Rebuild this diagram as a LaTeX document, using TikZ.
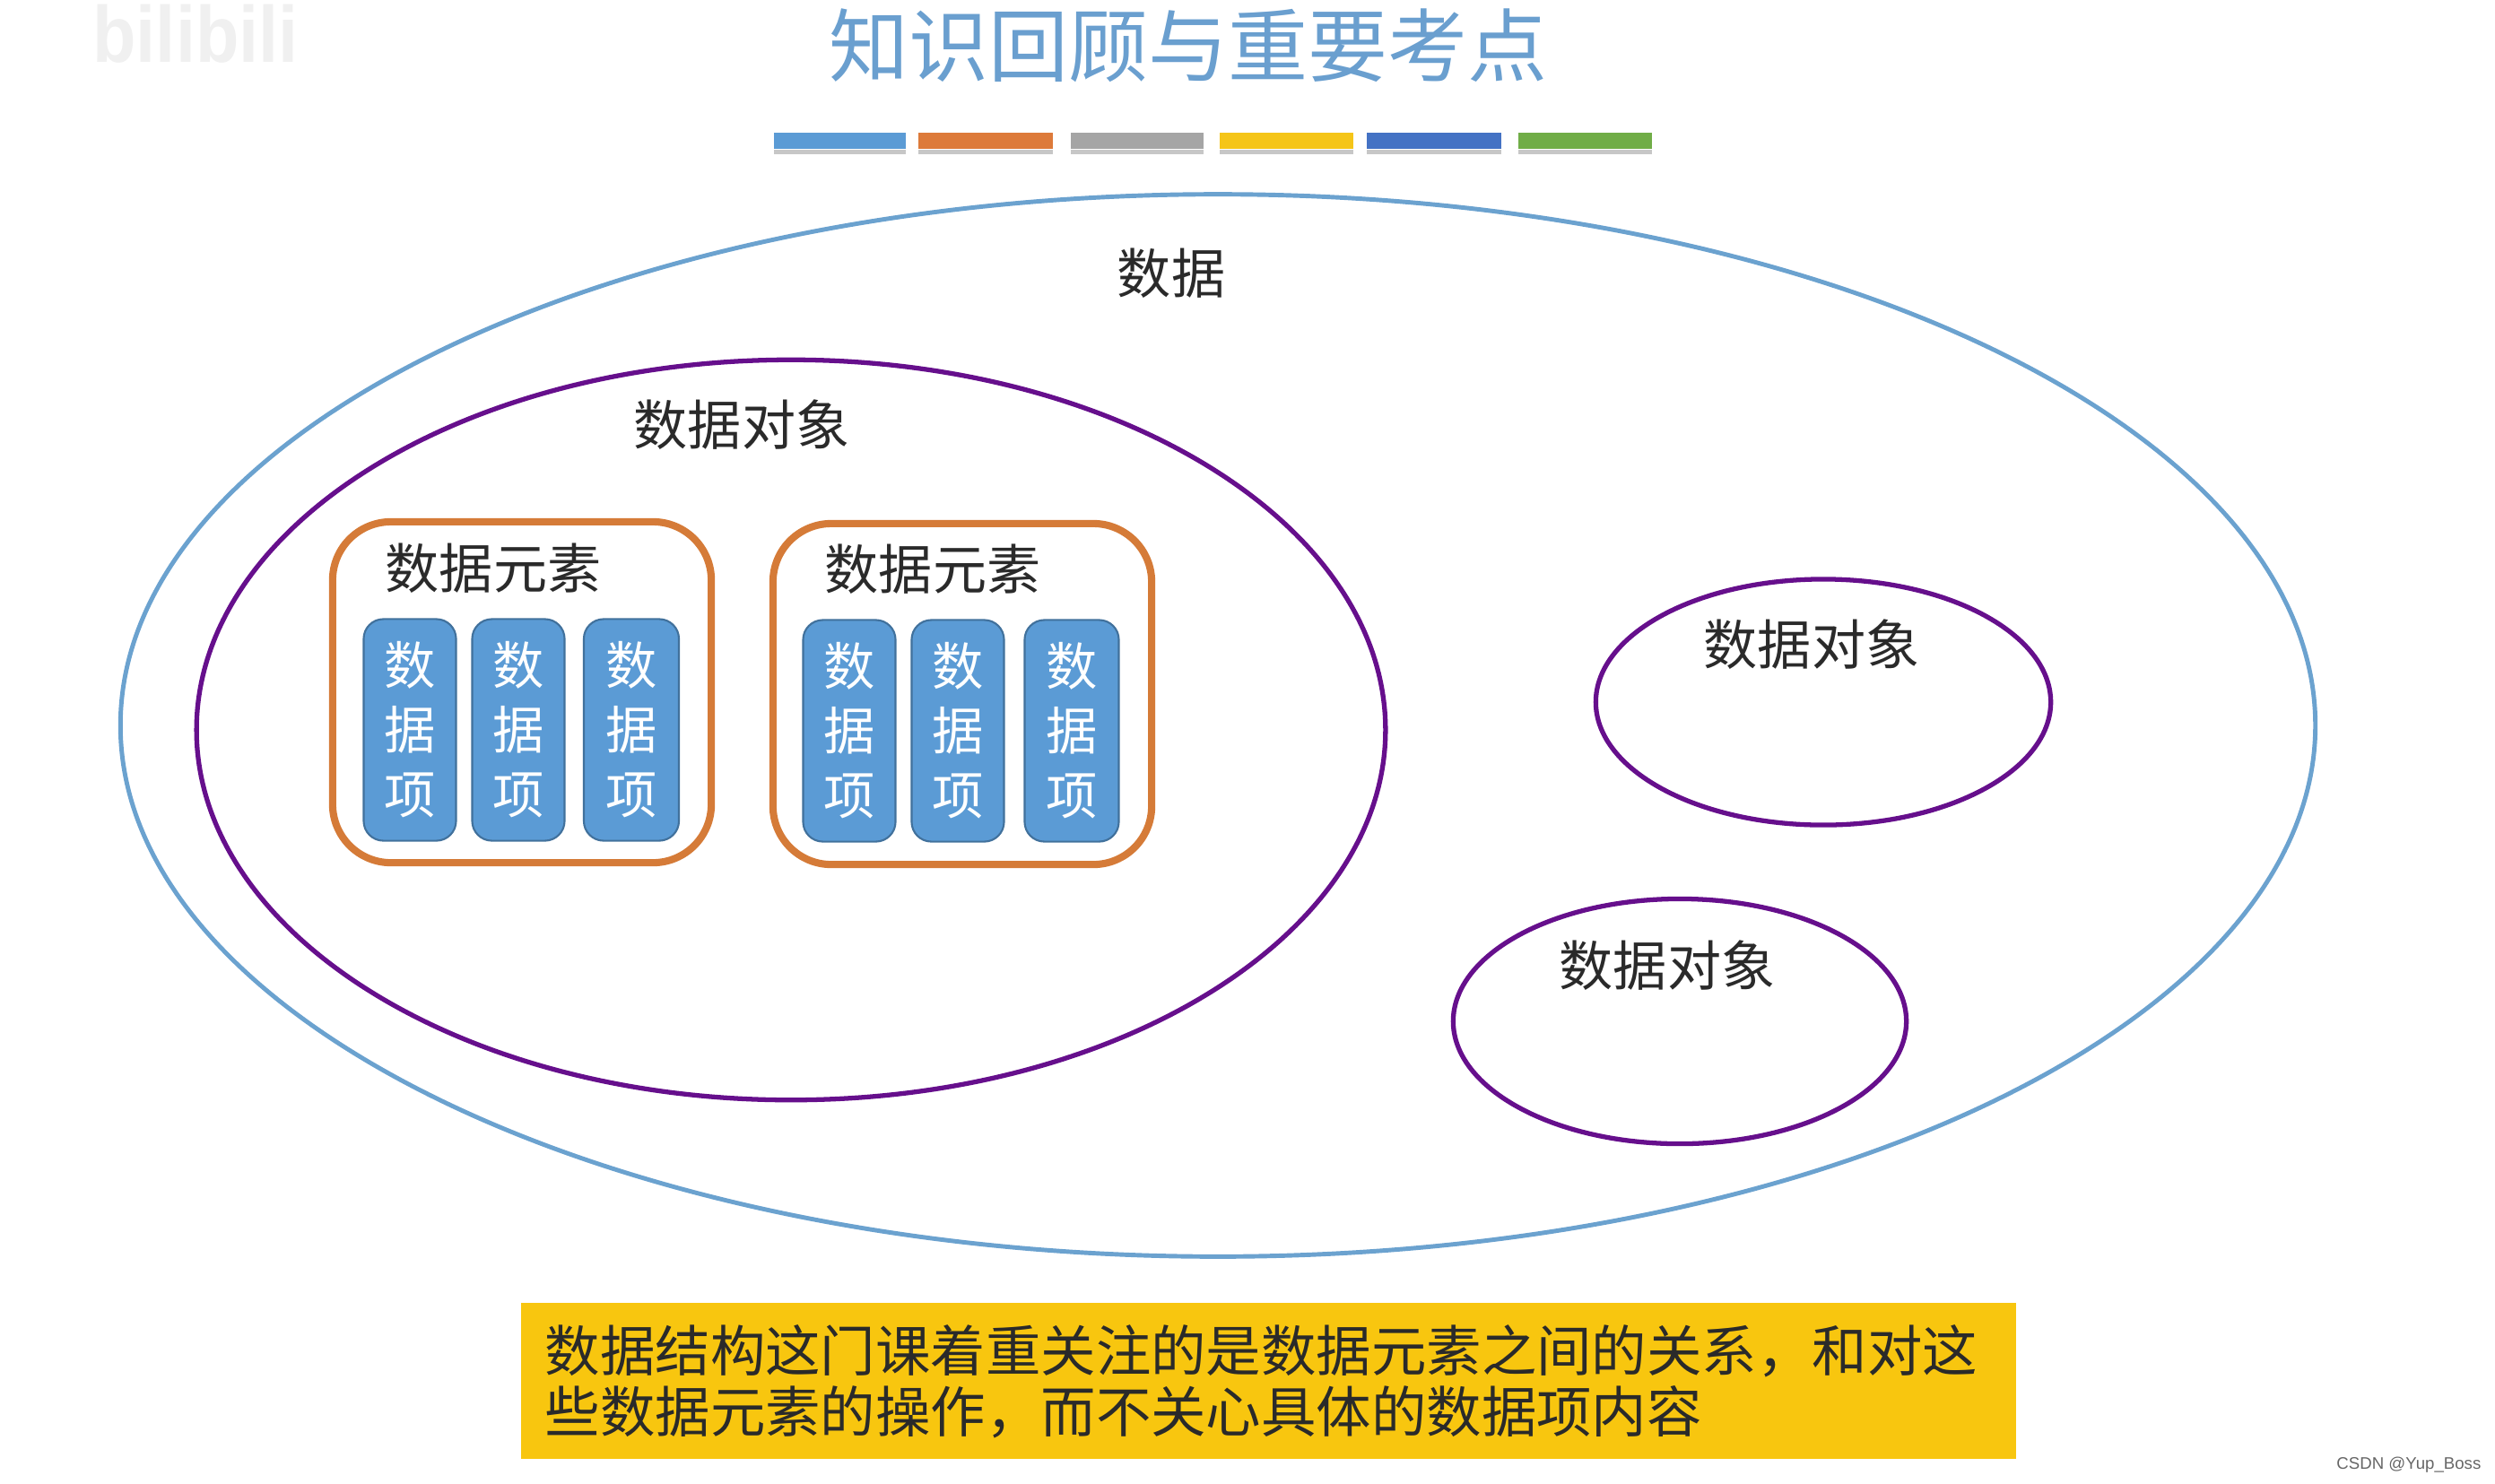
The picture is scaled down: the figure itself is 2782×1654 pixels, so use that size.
\documentclass[tikz,border=0pt]{standalone}
\usepackage{fontspec}
\usetikzlibrary{shapes.geometric}
\newfontfamily\cjk{Noto Sans CJK SC}
\setsansfont{Liberation Sans}
\definecolor{cblue}{HTML}{5B9BD5}
\definecolor{cedge}{HTML}{41719C}
\definecolor{corange}{HTML}{D57B38}
\definecolor{cpurple}{HTML}{660F8C}
\definecolor{cring}{HTML}{6BA2CF}
\definecolor{cyellow}{HTML}{F8C60F}
\definecolor{ctitle}{HTML}{6A9FCF}
\definecolor{ctext}{HTML}{2A2A2A}
\tikzset{
  ringbig/.style={ellipse,draw=cring,line width=1.4pt,inner sep=0pt,minimum width=#1},
  ringobj/.style={ellipse,draw=cpurple,line width=1.5pt,inner sep=0pt,minimum width=#1},
  elembox/.style={rectangle,rounded corners=6.5mm,draw=corange,line width=2.3pt,inner sep=0pt,minimum width=4.22cm,minimum height=3.8cm},
  itembox/.style={rectangle,rounded corners=2.2mm,draw=cedge,line width=.6pt,fill=cblue,text=white,inner sep=0pt,align=center,minimum height=2.47cm,
     font=\cjk\fontsize{16.3}{20.5}\selectfont},
  lbl/.style={text=ctext,inner sep=0pt,font=\cjk\fontsize{17.1}{20}\selectfont},
  bar/.style={rectangle,inner sep=0pt,minimum height=.18cm,fill=#1},
  barshade/.style={rectangle,inner sep=0pt,minimum height=.05cm,fill=black!22},
}
\begin{document}
\begin{tikzpicture}[x=.01cm,y=-.01cm]
\useasboundingbox (0,0) rectangle (2782,1654);
% faint video watermark
\node[text=black!6,inner sep=0pt,font=\sffamily\bfseries\fontsize{23}{23}\selectfont,xscale=.98,yscale=1.1] (wm) at (218,38) {bilibili};
% title
\node[text=ctitle,inner sep=0pt,font=\cjk\fontsize{25.3}{30}\selectfont] (title) at (1325,51) {知识回顾与重要考点};
% colour bars
\foreach \n/\xa/\w/\c in {a/936/147/5B9BD5,b/1099/150/DD7A3A,c/1268/148/A5A5A5,d/1434/149/F5C518,e/1599/150/4472C4,f/1767/149/70AD47}{
  \definecolor{tmpc}{HTML}{\c}
  \node[barshade,minimum width=\w*.01cm] (s\n) at (\xa,169) {};
  \node[bar=tmpc,minimum width=\w*.01cm] (b\n) at (\xa,157) {};
}
% ellipses
\node[ringbig=24.46cm,minimum height=11.84cm] (data) at (1358,809) {};
\node[ringobj=13.25cm,minimum height=8.25cm] (objA) at (882,814) {};
\node[ringobj=5.07cm,minimum height=2.74cm] (objB) at (2033,783) {};
\node[ringobj=5.05cm,minimum height=2.73cm] (objC) at (1873,1139) {};
% element boxes
\node[elembox] (elA) at (582,772) {};
\node[elembox] (elB) at (1073,774) {};
% items
\node[itembox,minimum width=1.03cm] (iA1) at (457,814) {数\\据\\项};
\node[itembox,minimum width=1.03cm] (iA2) at (578,814) {数\\据\\项};
\node[itembox,minimum width=1.06cm] (iA3) at (704,814) {数\\据\\项};
\node[itembox,minimum width=1.03cm] (iB1) at (947,815) {数\\据\\项};
\node[itembox,minimum width=1.03cm] (iB2) at (1068,815) {数\\据\\项};
\node[itembox,minimum width=1.05cm] (iB3) at (1195,815) {数\\据\\项};
% labels
\node[lbl] (tData) at (1306,305) {数据};
\node[lbl] (tObjA) at (827,474) {数据对象};
\node[lbl] (tObjB) at (2020,719) {数据对象};
\node[lbl] (tObjC) at (1859,1077) {数据对象};
\node[lbl] (tElA) at (550,634) {数据元素};
\node[lbl] (tElB) at (1040,635) {数据元素};
% note
\node[rectangle,fill=cyellow,inner sep=0pt,minimum width=16.66cm,minimum height=1.73cm] (note) at (1414,1540) {};
\node[anchor=west,inner sep=0pt,align=left,text=ctext,font=\cjk\fontsize{17.47}{19.4}\selectfont] (noteText) at (607,1541) {数据结构这门课着重关注的是数据元素之间的关系，和对这\\些数据元素的操作，而不关心具体的数据项内容};
% credit
\node[anchor=east,inner sep=0pt,text=black!60,font=\sffamily\fontsize{5.3}{7}\selectfont] (credit) at (2767,1634) {CSDN @Yup\_Boss};
\end{tikzpicture}
\end{document}
